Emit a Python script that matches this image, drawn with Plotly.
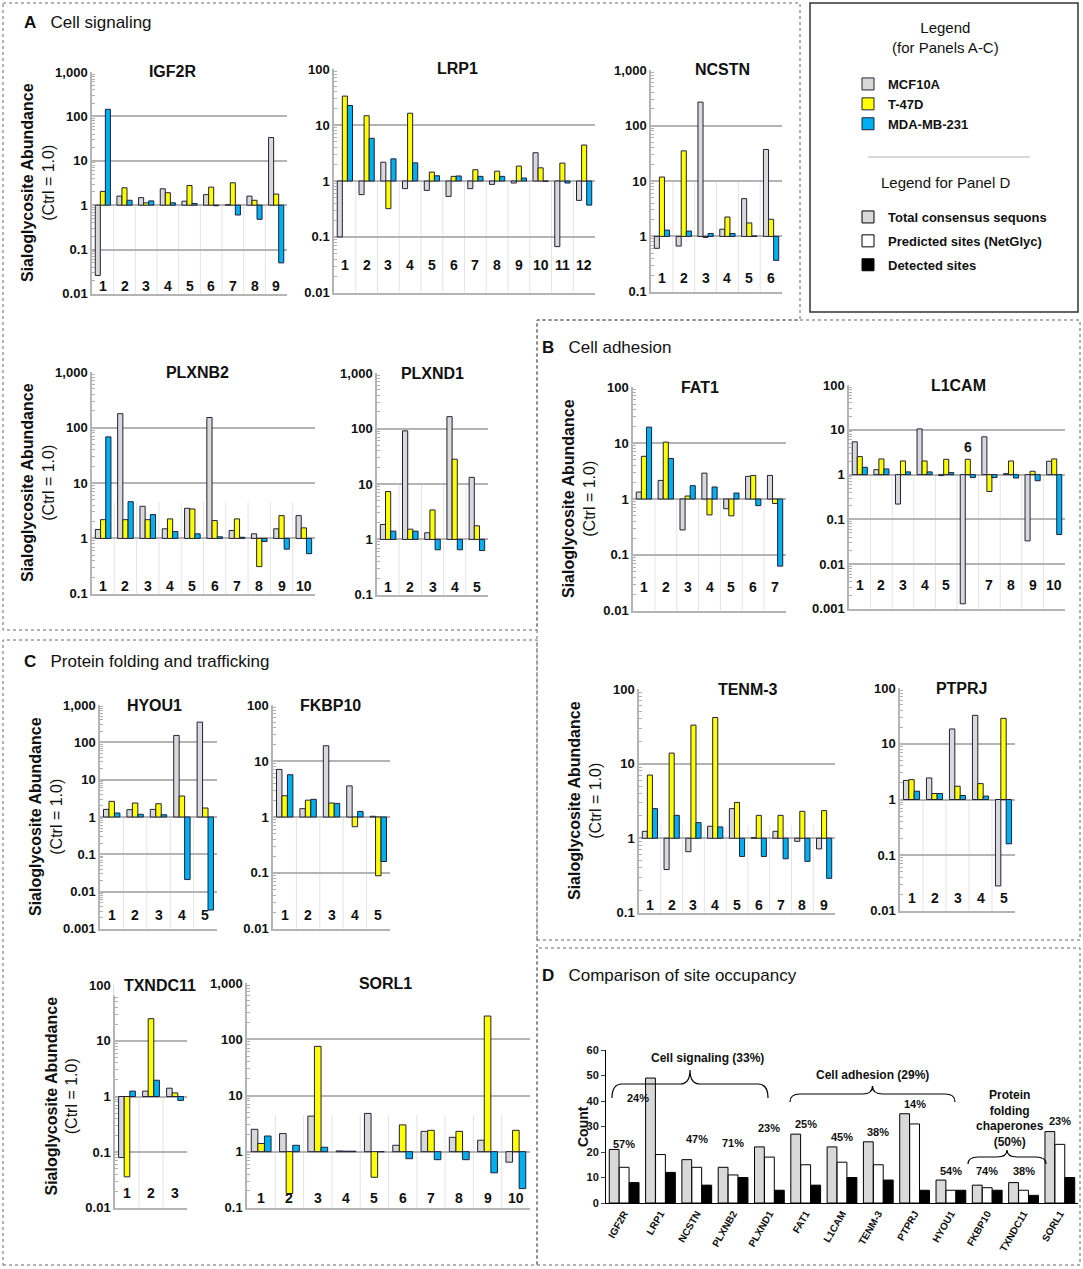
import plotly.graph_objects as go

# ---------------- data (sialoglycosite abundance, Ctrl = 1.0) ----------------
series_names = ["MCF10A", "T-47D", "MDA-MB-231"]

igf2r_mcf10a = [0.026, 1.6, 1.48, 2.34, 1.23, 1.73, 1.02, 1.6, 33.5]
igf2r_t47d = [2.05, 2.47, 1.13, 1.91, 2.78, 2.55, 3.2, 1.29, 1.78]
igf2r_mda = [145, 1.29, 1.25, 1.13, 1.09, 0.97, 0.6, 0.48, 0.05]

lrp1_mcf10a = [0.10, 0.57, 2.17, 0.73, 0.68, 0.53, 0.73, 0.87, 0.92, 3.2, 0.067, 0.45]
lrp1_t47d = [33, 14.7, 0.32, 16.3, 1.44, 1.21, 1.59, 1.5, 1.85, 1.72, 2.09, 4.4]
lrp1_mda = [22.4, 5.8, 2.49, 2.11, 1.24, 1.23, 1.21, 1.21, 1.13, 0.99, 0.92, 0.37]

ncstn_mcf10a = [0.61, 0.67, 265, 1.35, 4.8, 37]
ncstn_t47d = [11.8, 35, 0.96, 2.24, 1.75, 2.04]
ncstn_mda = [1.3, 1.25, 1.13, 1.13, 1.02, 0.37]

plxnb2_mcf10a = [1.45, 178, 3.8, 1.49, 3.5, 152, 1.39, 1.21, 1.49, 2.58]
plxnb2_t47d = [2.18, 2.18, 2.18, 2.25, 3.4, 2.1, 2.25, 0.31, 2.58, 1.55]
plxnb2_mda = [68, 4.6, 2.7, 1.33, 1.21, 1.07, 1.05, 0.88, 0.64, 0.53]

plxnd1_mcf10a = [1.86, 91, 1.32, 164, 13.2]
plxnd1_t47d = [7.3, 1.53, 3.4, 28, 1.76]
plxnd1_mda = [1.41, 1.41, 0.65, 0.65, 0.63]

fat1_mcf10a = [1.33, 2.15, 0.28, 2.9, 0.67, 2.54, 2.64]
fat1_t47d = [5.8, 10.4, 1.13, 0.52, 0.5, 2.64, 0.83]
fat1_mda = [19.3, 5.3, 1.73, 1.64, 1.28, 0.76, 0.063]

l1cam_mcf10a = [5.4, 1.29, 0.22, 10.5, 0.95, 0.0013, 7.0, 1.05, 0.033, 1.99]
l1cam_t47d = [2.53, 2.24, 2.02, 2.02, 2.2, 2.2, 0.42, 2.02, 1.19, 2.24]
l1cam_mda = [1.46, 1.34, 1.15, 1.15, 1.11, 0.86, 0.86, 0.84, 0.73, 0.046]

tenm3_mcf10a = [1.24, 0.38, 0.66, 1.45, 2.5, 1.02, 1.24, 0.91, 0.72]
tenm3_t47d = [7.05, 13.9, 33, 41.7, 3.03, 2.03, 2.03, 2.3, 2.35]
tenm3_mda = [2.5, 2.03, 1.62, 1.42, 0.57, 0.57, 0.53, 0.49, 0.29]

ptprj_mcf10a = [2.2, 2.44, 18.5, 32.5, 0.028]
ptprj_t47d = [2.27, 1.28, 1.73, 1.93, 28.7]
ptprj_mda = [1.41, 1.28, 1.18, 1.15, 0.16]

hyou1_mcf10a = [1.6, 1.57, 1.6, 154, 350]
hyou1_t47d = [2.63, 2.37, 2.27, 3.65, 1.74]
hyou1_mda = [1.28, 1.18, 1.15, 0.021, 0.0032]

fkbp10_mcf10a = [7.1, 1.41, 18.8, 3.6, 1.03]
fkbp10_t47d = [2.4, 2.0, 1.78, 0.67, 0.089]
fkbp10_mda = [5.7, 2.07, 1.75, 1.26, 0.16]

txndc11_mcf10a = [0.08, 1.25, 1.41]
txndc11_t47d = [0.036, 25, 1.16]
txndc11_mda = [1.25, 1.96, 0.85]

sorl1_mcf10a = [2.5, 2.1, 4.3, 1.03, 4.8, 1.3, 2.3, 1.8, 1.6, 0.65]
sorl1_t47d = [1.4, 0.18, 75, 1.02, 0.35, 3.0, 2.4, 2.3, 260, 2.4]
sorl1_mda = [1.9, 1.3, 1.2, 1.02, 1.0, 0.75, 0.72, 0.72, 0.42, 0.22]

# Panel D
d_proteins = ["IGF2R", "LRP1", "NCSTN", "PLXNB2", "PLXND1", "FAT1", "L1CAM",
              "TENM-3", "PTPRJ", "HYOU1", "FKBP10", "TXNDC11", "SORL1"]
d_total = [21, 49, 17, 14, 22, 27, 22, 24, 35, 9, 7, 8, 28]
d_predicted = [14, 19, 14, 11, 18, 15, 16, 15, 31, 5, 6, 5, 23]
d_detected = [8, 12, 7, 10, 5, 7, 10, 9, 5, 5, 5, 3, 10]
d_pct = ["57%", "24%", "47%", "71%", "23%", "25%", "45%", "38%", "14%", "54%", "74%", "38%", "23%"]
d_pct_y = [23, 41, 25, 23.5, 29.5, 31, 26, 28, 39, 12.5, 12.5, 12.5, 32]
d_series = ["Total consensus sequons", "Predicted sites (NetGlyc)", "Detected sites"]

# ---------------- styling ----------------
W, H = 1083, 1269
FONT = "Liberation Sans, Arial, sans-serif"
TXT = "#111111"
GRID = "#b4b4b4"
OUT = "#20203a"
COLORS = ["#d9d9d9", "#ffff00", "#00b0f0"]
D_COLORS = ["#d9d9d9", "#ffffff", "#000000"]


def X(p):
    return p / W


def Y(p):
    return 1 - p / H


# name, data, (x0, x1, ytop, ybot) in px, log range, label height px, separator top, title x, y-title
panels = [
    ("IGF2R", (igf2r_mcf10a, igf2r_t47d, igf2r_mda), (92, 287, 72, 294), (-2, 3), 8, 1, 172, True),
    ("LRP1", (lrp1_mcf10a, lrp1_t47d, lrp1_mda), (334, 595, 69, 293), (-2, 2), 28, 1, 457, False),
    ("NCSTN", (ncstn_mcf10a, ncstn_t47d, ncstn_mda), (651, 782, 70, 292), (-1, 3), 14, 10, 722, False),
    ("PLXNB2", (plxnb2_mcf10a, plxnb2_t47d, plxnb2_mda), (92, 315, 372, 594), (-1, 3), 8, 4.5, 197, True),
    ("PLXND1", (plxnd1_mcf10a, plxnd1_t47d, plxnd1_mda), (377, 488, 373, 595), (-1, 3), 8, 10, 432, False),
    ("FAT1", (fat1_mcf10a, fat1_t47d, fat1_mda), (633, 786, 387, 611), (-2, 2), 24, 1, 700, True),
    ("L1CAM", (l1cam_mcf10a, l1cam_t47d, l1cam_mda), (849, 1065, 385, 609), (-3, 2), 24, 1, 958, False),
    ("TENM-3", (tenm3_mcf10a, tenm3_t47d, tenm3_mda), (639, 835, 689, 913), (-1, 2), 8, 1.5, 747, True),
    ("PTPRJ", (ptprj_mcf10a, ptprj_t47d, ptprj_mda), (900, 1015, 688, 911), (-2, 2), 13, 1, 961, False),
    ("HYOU1", (hyou1_mcf10a, hyou1_t47d, hyou1_mda), (100, 217, 705, 929), (-3, 3), 14, 1, 154, True),
    ("FKBP10", (fkbp10_mcf10a, fkbp10_t47d, fkbp10_mda), (273, 390, 705, 929), (-2, 2), 14, 1, 330, False),
    ("TXNDC11", (txndc11_mcf10a, txndc11_t47d, txndc11_mda), (115, 187, 985, 1208), (-2, 2), 15, 1, 160, True),
    ("SORL1", (sorl1_mcf10a, sorl1_t47d, sorl1_mda), (247, 530, 983, 1208), (-1, 3), 10, 4.5, 385, False),
]

TICKTXT = {-3: "0.001", -2: "0.01", -1: "0.1", 0: "1", 1: "10", 2: "100", 3: "1,000"}

fig = go.Figure()
layout = {}
shapes = []
annotations = []


def note(text, x, y, size, xanchor="center", yanchor="middle", angle=0, **kw):
    d = dict(text=text, x=x, y=y, xref=kw.pop("xref", "paper"), yref=kw.pop("yref", "paper"),
             showarrow=False, xanchor=xanchor, yanchor=yanchor, textangle=angle,
             font=dict(size=size, family=FONT, color=TXT))
    d.update(kw)
    annotations.append(d)


for k, (name, vals, box, rng, lab_h, sep_top, tx, ytitle) in enumerate(panels, start=1):
    xa = "x" if k == 1 else f"x{k}"
    ya = "y" if k == 1 else f"y{k}"
    x0, x1, yt, yb = box
    lo, hi = rng
    n = len(vals[0])
    for s, (sname, col) in enumerate(zip(series_names, COLORS)):
        v = vals[s]
        fig.add_trace(go.Bar(
            x=list(range(n)), y=[a - 1 for a in v], base=1,
            marker=dict(color=col, line=dict(color=OUT, width=1)),
            name=sname, showlegend=(k == 1), legend="legend",
            xaxis=xa, yaxis=ya, offsetgroup=str(s), hoverinfo="skip"))
    # site numbers (drawn inside the plot area, above the bottom axis)
    for i in range(n):
        if name == "L1CAM" and i == 5:
            note("<b>6</b>", i, 0.62, 14, xref=xa, yref=ya)
        else:
            note(f"<b>{i + 1}</b>", i, 0, 14, xref=xa, yref=f"{ya} domain", yshift=lab_h)
    layout["xaxis" if k == 1 else f"xaxis{k}"] = dict(
        domain=[X(x0), X(x1)], anchor=ya, range=[-0.5, n - 0.5], automargin=False,
        showticklabels=False, ticks="", showgrid=False, zeroline=False,
        showline=True, linecolor=GRID, linewidth=1.5, fixedrange=True)
    minor_vals = [m * 10 ** e for e in range(lo, hi) for m in range(2, 10)]
    layout["yaxis" if k == 1 else f"yaxis{k}"] = dict(
        domain=[Y(yb), Y(yt)], anchor=xa, type="log", range=[lo - 0.003, hi + 0.003],
        automargin=False,
        tickvals=[10 ** e for e in range(lo, hi + 1)],
        ticktext=[TICKTXT[e] for e in range(lo, hi + 1)],
        showgrid=True, gridcolor=GRID, gridwidth=1.5, zeroline=False,
        showline=True, linecolor=GRID, linewidth=1.5, ticks="",
        minor=dict(tickvals=minor_vals, ticks="inside", ticklen=3,
                   tickcolor="#b0b0b0", tickwidth=1, showgrid=False),
        tickfont=dict(size=13, family=FONT, color=TXT, weight="bold"), fixedrange=True)
    for i in range(n - 1):
        shapes.append(dict(type="line", xref=xa, yref=ya, x0=i + 0.5, x1=i + 0.5,
                           y0=10 ** lo, y1=sep_top, line=dict(color="#e4e4e4", width=1),
                           layer="below"))
    note(f"&nbsp;&nbsp;<b>{name}</b>&nbsp;&nbsp;", X(tx), Y(yt), 16, bgcolor="white", borderpad=1)
    if ytitle:
        note("<b>Sialoglycosite Abundance</b><br>(Ctrl = 1.0)", X(x0 - 54), Y((yt + yb) / 2), 16,
             angle=-90)

# ---------------- Panel D ----------------
kD = len(panels) + 1
xD, yD = f"x{kD}", f"y{kD}"
offs = [-0.41, -0.135, 0.14]
for s, (sname, vals, col) in enumerate(zip(d_series, [d_total, d_predicted, d_detected], D_COLORS)):
    fig.add_trace(go.Bar(
        x=d_proteins, y=vals, width=0.27, offset=offs[s],
        marker=dict(color=col, line=dict(color="#000000", width=1)),
        name=sname, legend="legend2", legendgroup=sname,
        xaxis=xD, yaxis=yD, hoverinfo="skip"))
layout[f"xaxis{kD}"] = dict(domain=[X(606), X(1078)], anchor=yD, type="category", automargin=False,
                            categoryarray=d_proteins, range=[-0.5, 12.5], tickangle=-60,
                            showline=True, linecolor="#000", linewidth=1, ticks="",
                            showgrid=False, fixedrange=True,
                            tickfont=dict(size=10, family=FONT, color=TXT, weight="bold"))
layout[f"yaxis{kD}"] = dict(domain=[Y(1203), Y(1050)], anchor=xD, range=[0, 60], dtick=10,
                            automargin=False,
                            showline=True, linecolor="#000", linewidth=1, ticks="outside",
                            ticklen=4, showgrid=False, zeroline=False, fixedrange=True,
                            tickfont=dict(size=11, family=FONT, color=TXT, weight="bold"))
note("<b>Count</b>", X(583), Y(1127), 14, angle=-90)
for p, t, yy in zip(d_proteins, d_pct, d_pct_y):
    note(f"<b>{t}</b>", p, yy, 11, xref=xD, yref=yD, xshift=(-22 if p == "LRP1" else 0))


def brace(x0, x1, ytop, ybot, r=10):
    xm = (x0 + x1) / 2
    ym = (ytop + ybot) / 2
    pts = [("M", [(x0, ybot)]), ("Q", [(x0, ym), (x0 + r, ym)]), ("L", [(xm - r, ym)]),
           ("Q", [(xm, ym), (xm, ytop)]), ("Q", [(xm, ym), (xm + r, ym)]),
           ("L", [(x1 - r, ym)]), ("Q", [(x1, ym), (x1, ybot)])]
    out = []
    for cmd, ps in pts:
        out.append(cmd + " " + " ".join(f"{X(a):.5f},{Y(b):.5f}" for a, b in ps))
    return " ".join(out)


for (bx0, bx1, byt, byb) in [(612, 768, 1070, 1098), (790, 955, 1086, 1102), (968, 1046, 1150, 1164)]:
    shapes.append(dict(type="path", xref="paper", yref="paper", path=brace(bx0, bx1, byt, byb),
                       line=dict(color="#000", width=1.2)))
note("<b>Cell signaling (33%)</b>", X(707), Y(1058), 12)
note("<b>Cell adhesion (29%)</b>", X(872), Y(1075), 12)
note("<b>Protein<br>folding<br>chaperones<br>(50%)</b>", X(1010), Y(1118), 12)


# ---------------- panel frames & headers ----------------
def pathpx(pts):
    return "M " + " L ".join(f"{X(a):.5f},{Y(b):.5f}" for a, b in pts) + " Z"


frame = dict(color="#666666", width=1, dash="dot")
shapes.append(dict(type="path", xref="paper", yref="paper",
                   path=pathpx([(3, 3), (800, 3), (800, 320), (537, 320), (537, 630), (3, 630)]),
                   line=frame))
shapes.append(dict(type="rect", xref="paper", yref="paper", x0=X(537), x1=X(1080), y0=Y(940), y1=Y(320), line=frame))
shapes.append(dict(type="rect", xref="paper", yref="paper", x0=X(3), x1=X(537), y0=Y(1265), y1=Y(640), line=frame))
shapes.append(dict(type="rect", xref="paper", yref="paper", x0=X(537), x1=X(1080), y0=Y(1265), y1=Y(948), line=frame))
# legend frame
shapes.append(dict(type="rect", xref="paper", yref="paper", x0=X(810), x1=X(1078), y0=Y(312), y1=Y(3),
                   line=dict(color="#333333", width=1.5)))
shapes.append(dict(type="line", xref="paper", yref="paper", x0=X(868), x1=X(1030), y0=Y(157), y1=Y(157),
                   line=dict(color="#cccccc", width=1.5)))

for letter, title, lx, ly in [("A", "Cell signaling", 22, 22), ("B", "Cell adhesion", 540, 347),
                              ("C", "Protein folding and trafficking", 22, 661),
                              ("D", "Comparison of site occupancy", 540, 975)]:
    note(f"<b>{letter}</b>&nbsp;&nbsp;&nbsp;{title}", X(lx), Y(ly), 17, xanchor="left")

note("Legend<br>(for Panels A-C)", X(945), Y(37), 15)
note("Legend for Panel D", X(945), Y(183), 15)

fig.update_layout(
    width=W, height=H, margin=dict(l=0, r=0, t=0, b=0, autoexpand=False),
    paper_bgcolor="white", plot_bgcolor="white",
    barmode="group", bargap=0.3, bargroupgap=0,
    font=dict(family=FONT, color=TXT),
    shapes=shapes, annotations=annotations,
    legend=dict(x=X(848), y=Y(69), xanchor="left", yanchor="top", bgcolor="rgba(0,0,0,0)",
                font=dict(size=13, family=FONT, color=TXT, weight="bold"), itemclick=False),
    legend2=dict(x=X(848), y=Y(202), xanchor="left", yanchor="top", bgcolor="rgba(0,0,0,0)",
                 tracegroupgap=4,
                 font=dict(size=13, family=FONT, color=TXT, weight="bold"), itemclick=False),
    **layout,
)

fig.write_html("out.html", config={"displayModeBar": False},
               post_script="document.body.style.margin='0';")
